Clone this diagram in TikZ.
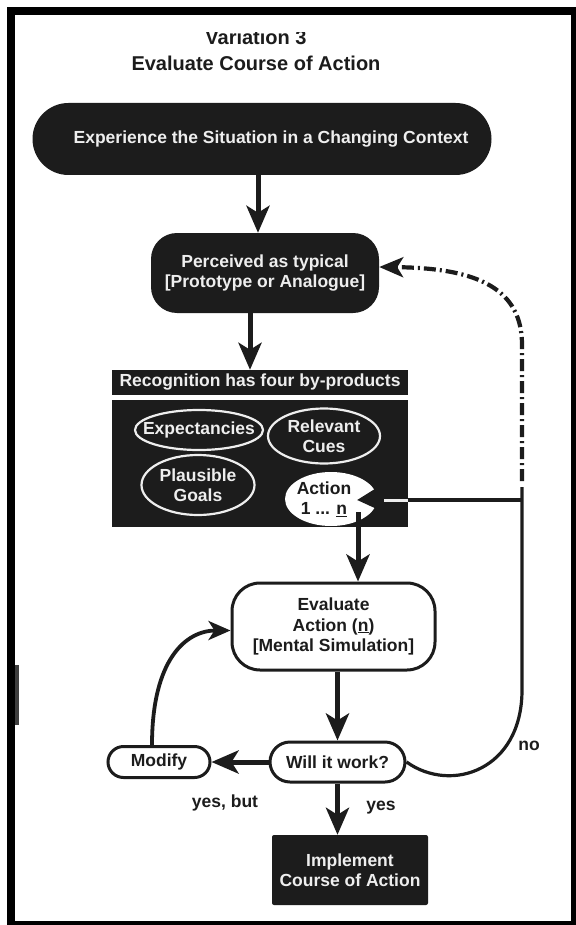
\documentclass[tikz,border=0pt]{standalone}
\usepackage{fontspec}
\setmainfont{Liberation Sans}
\usetikzlibrary{arrows.meta,shapes.geometric,calc}
\definecolor{ink}{RGB}{28,28,28}
\definecolor{paper}{RGB}{238,238,238}
\begin{document}
\begin{tikzpicture}[x=1pt,y=-1pt,
  txt/.style={font=\bfseries\fontsize{17.5}{20.5}\selectfont, align=center},
  darkbox/.style={txt, fill=ink, text=paper, inner sep=0pt},
  lightbox/.style={txt, fill=white, draw=ink, line width=3pt, text=ink, inner sep=0pt},
  byprod/.style={ellipse, fill=ink, draw=paper, line width=2.2pt, inner sep=0pt},
  intext/.style={txt, text=paper},
  bigarrow/.style={draw=ink, line width=5pt, -{Stealth[length=27pt,width=23pt,inset=7pt]}},
  thinline/.style={draw=ink, line width=3.2pt},
  lbl/.style={txt, text=ink}
]
\useasboundingbox (0,0) rectangle (575,925);
\fill[white] (0,0) rectangle (575,925);

% title
\begin{scope}
\clip (20,33) rectangle (560,90);
\node[lbl, font=\bfseries\fontsize{20}{24}\selectfont, anchor=base] (t1) at (256,45) {Variation 3};
\end{scope}
\node[lbl, font=\bfseries\fontsize{20}{24}\selectfont, anchor=base] (t2) at (256,71) {Evaluate Course of Action};

% nodes
\node[darkbox, rounded corners=36pt, minimum width=459pt, minimum height=72pt] (exp) at (262,139) {\hspace*{18pt}Experience the Situation in a Changing Context};
\node[darkbox, rounded corners=26pt, minimum width=228pt, minimum height=80pt] (per) at (265,273) {Perceived as typical\\{[Prototype or Analogue]}};
\node[darkbox, minimum width=296pt, minimum height=25pt] (rtitle) at (260,382.5) {Recognition has four by-products};
\node[fill=ink, minimum width=296pt, minimum height=127pt, inner sep=0pt] (rbox) at (260,463.5) {};
\node[byprod, minimum width=128pt, minimum height=40pt, label={[intext]center:Expectancies}] (expc) at (199,430) {};
\node[byprod, minimum width=112pt, minimum height=55pt, label={[intext]center:Relevant\\Cues}] (cues) at (324,436) {};
\node[byprod, minimum width=113pt, minimum height=60pt, label={[intext]center:Plausible\\Goals}] (goals) at (198,485) {};
\node[ellipse, fill=white, inner sep=0pt, minimum width=92pt, minimum height=54pt] (act) at (331,499) {};
\fill[ink] ($(act.east)+(-20,1)$) -- ($(act.east)+(4,-14)$) -- ($(act.east)+(4,12)$) -- cycle;
\node[txt, text=ink] (acttext) at ($(act.center)+(-7,0)$) {Action\\1 ... \underline{n}};

\node[lightbox, rounded corners=28pt, minimum width=203pt, minimum height=87pt] (eval) at (333.5,626.5) {Evaluate\\Action (\underline{n})\\{[Mental Simulation]}};
\node[lightbox, rounded corners=20pt, minimum width=135pt, minimum height=40pt] (will) at (337.5,762) {Will it work?};
\node[lightbox, rounded corners=15.5pt, minimum width=102pt, minimum height=31pt] (mod) at (159,762) {Modify};
\node[darkbox, rounded corners=2pt, minimum width=156pt, minimum height=70pt] (impl) at (350,870) {Implement\\Course of Action};

% labels
\node[lbl] (lyb) at (225,803) {yes, but};
\node[lbl] (lyes) at (381,808) {yes};
\node[lbl] (lno) at (529,746) {no};

% connectors
\draw[bigarrow] (exp.south -| 258,0) -- (per.north -| 258,0);
\draw[bigarrow] (per.south -| 250,0) -- (rtitle.north -| 250,0);
\coordinate (astart) at (358,512);
\draw[bigarrow] (astart) -- (astart |- eval.north);
\draw[bigarrow] (will.north |- eval.south) -- (will.north);
\draw[bigarrow] (will.south) -- (will.south |- impl.north);
\draw[bigarrow] (will.west) -- (mod.east);
\draw[draw=ink, line width=3.8pt, -{Stealth[length=22pt,width=19pt,inset=6pt]}] ($(mod.north)+(-7,0)$) .. controls ($(mod.north)+(-7,-85)$) and ($(eval.west)+(-45,4)$) .. ($(eval.west)+(0,4)$);

\coordinate (jn) at (522,500);
\coordinate (ttop) at (522,487);
\coordinate (nbend) at (522,690);
\draw[thinline] (will.east) .. controls ($(will.east)+(45,32)$) and (522,770) .. (nbend) -- (ttop);
\draw[thinline] (jn) -- (rbox.east |- jn);
\draw[draw=paper, line width=3pt] (rbox.east |- jn) -- ($(act.east)+(7,1)$);
\draw[draw=ink, line width=4.2pt, dash pattern=on 12pt off 4pt on 2pt off 4pt, -{Stealth[length=24pt,width=20pt,inset=6pt]}] (522,481) -- (522,345) .. controls (522,290) and (480,268) .. ($(per.east)+(0,-6)$);

% scan mark and frame
\fill[ink!85] (15,665) rectangle (19,725);
\draw[black, line width=8pt] (11,11) rectangle (575,925);
\end{tikzpicture}
\end{document}
